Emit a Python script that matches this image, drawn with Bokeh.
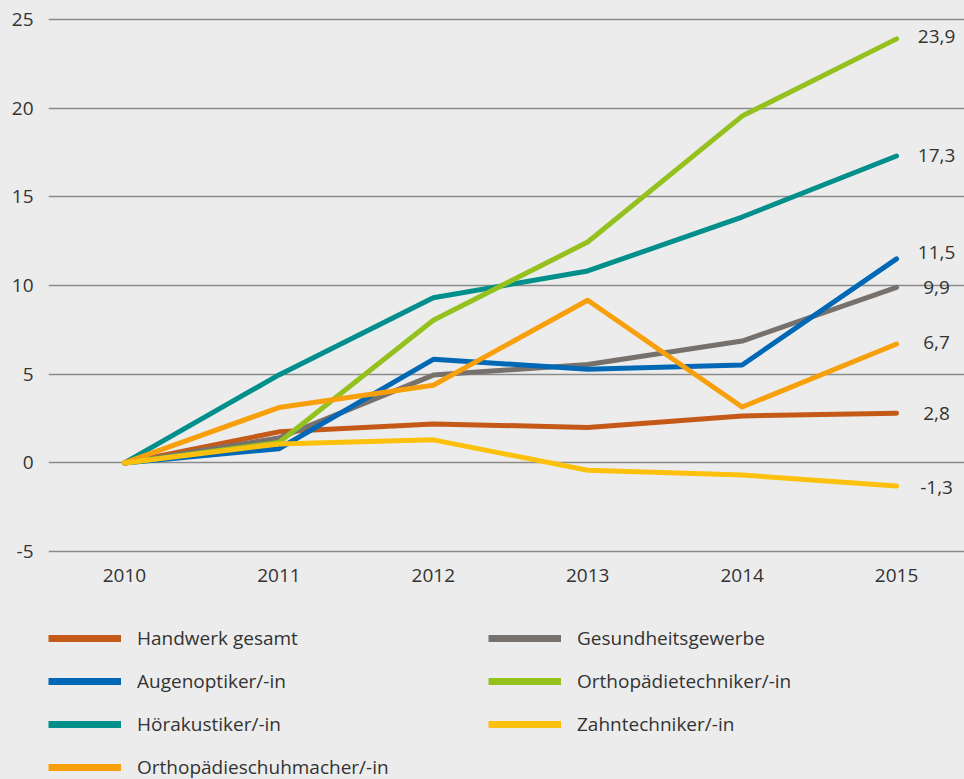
from bokeh.plotting import figure
from bokeh.layouts import column
from bokeh.models import (FixedTicker, Legend, LegendItem, ColumnDataSource,
                          GlobalInlineStyleSheet, Range1d, CustomJSTickFormatter)
from bokeh.core.properties import value
from bokeh.embed import file_html
from bokeh.resources import INLINE

# ---------------- data ----------------
years = [2010, 2011, 2012, 2013, 2014, 2015]
handwerk_gesamt = [0, 1.75, 2.2, 2.0, 2.65, 2.8]
gesundheitsgewerbe = [0, 1.4, 4.95, 5.55, 6.87, 9.9]
augenoptiker = [0, 0.8, 5.84, 5.28, 5.52, 11.5]
orthopaedietechniker = [0, 1.15, 8.04, 12.45, 19.55, 23.9]
hoerakustiker = [0, 4.96, 9.31, 10.82, 13.86, 17.3]
zahntechniker = [0, 1.07, 1.3, -0.41, -0.68, -1.3]
orthopaedieschuhmacher = [0, 3.12, 4.38, 9.17, 3.15, 6.7]

legend_names = ["Handwerk gesamt", "Gesundheitsgewerbe", "Augenoptiker/-in",
                "Orthopädietechniker/-in", "Hörakustiker/-in", "Zahntechniker/-in",
                "Orthopädieschuhmacher/-in"]
y_ticks = [-5, 0, 5, 10, 15, 20, 25]

# ---------------- style ----------------
BG = "#ececec"
TXT = "#333333"
FONT = "Open Sans"
FS = "19px"
colors = {
    "Handwerk gesamt": "#c55a18",
    "Gesundheitsgewerbe": "#77716e",
    "Augenoptiker/-in": "#0068b4",
    "Orthopädietechniker/-in": "#95c11f",
    "Hörakustiker/-in": "#008f8a",
    "Zahntechniker/-in": "#fdc00c",
    "Orthopädieschuhmacher/-in": "#f7a00c",
}
series = {
    "Handwerk gesamt": handwerk_gesamt,
    "Gesundheitsgewerbe": gesundheitsgewerbe,
    "Augenoptiker/-in": augenoptiker,
    "Orthopädietechniker/-in": orthopaedietechniker,
    "Hörakustiker/-in": hoerakustiker,
    "Zahntechniker/-in": zahntechniker,
    "Orthopädieschuhmacher/-in": orthopaedieschuhmacher,
}
draw_order = ["Handwerk gesamt", "Gesundheitsgewerbe", "Augenoptiker/-in",
              "Hörakustiker/-in", "Orthopädietechniker/-in",
              "Orthopädieschuhmacher/-in", "Zahntechniker/-in"]

# ---------------- main chart ----------------
p = figure(frame_width=916, frame_height=550,
           x_range=Range1d(2009.508, 2015.44), y_range=Range1d(-5.5, 25.5),
           output_backend="svg", toolbar_location=None, title=None,
           min_border_left=48, min_border_right=0, min_border_top=10,
           min_border_bottom=40,
           background_fill_color=BG, border_fill_color=BG,
           outline_line_color=None)
p.stylesheets = [GlobalInlineStyleSheet(
    css="html, body {margin:0; padding:0; background:#ececec; overflow:hidden;}")]

p.xgrid.visible = False
p.ygrid.ticker = FixedTicker(ticks=y_ticks)
p.ygrid.grid_line_color = "#8a8a8a"
p.ygrid.grid_line_width = 1.5

p.xaxis.ticker = FixedTicker(ticks=years)
p.yaxis.ticker = FixedTicker(ticks=y_ticks)
p.yaxis.formatter = CustomJSTickFormatter(code="return tick.toString()")
p.xaxis.formatter = CustomJSTickFormatter(code="return tick.toString()")
for ax in (p.xaxis[0], p.yaxis[0]):
    ax.axis_line_color = None
    ax.major_tick_line_color = None
    ax.minor_tick_line_color = None
    ax.major_tick_in = 0
    ax.major_tick_out = 0
    ax.major_label_text_font = FONT
    ax.major_label_text_font_size = FS
    ax.major_label_text_color = TXT
p.xaxis.major_label_standoff = 8
p.yaxis.major_label_standoff = 15

for name in draw_order:
    src = ColumnDataSource(dict(x=years, y=series[name]))
    p.line("x", "y", source=src, line_color=colors[name], line_width=5,
           line_cap="round", line_join="round")

# end labels
end_vals = [series[n][-1] for n in legend_names]
end_text = [f"{v:.1f}".replace(".", ",") for v in end_vals]
nudge = {"Augenoptiker/-in": -6, "Orthopädieschuhmacher/-in": -2,
         "Orthopädietechniker/-in": -2, "Zahntechniker/-in": 2}
lab_src = ColumnDataSource(dict(
    x=[years[-1]] * len(legend_names), y=end_vals, t=end_text,
    dy=[nudge.get(n, 0) for n in legend_names]))
p.text("x", "y", text="t", source=lab_src, x_offset=40, y_offset="dy",
       text_align="center", text_baseline="middle",
       text_font=value(FONT), text_font_size=FS, text_color=TXT)

# ---------------- legend panel ----------------
# the series are drawn here only as legend proxies (thicker swatches),
# their range lies outside this panel's view so nothing is visible
lg = figure(width=964, height=179, x_range=Range1d(0, 1), y_range=Range1d(100, 101),
            output_backend="svg", toolbar_location=None, title=None,
            x_axis_location=None, y_axis_location=None,
            min_border_left=0, min_border_right=0, min_border_top=0,
            min_border_bottom=0,
            background_fill_color=BG, border_fill_color=BG,
            outline_line_color=None)
lg.xgrid.visible = False
lg.ygrid.visible = False

items = []
for name in legend_names:
    psrc = ColumnDataSource(dict(x=years, y=series[name]))
    proxy = lg.line("x", "y", source=psrc, line_color=colors[name], line_width=7)
    items.append(LegendItem(label=name, renderers=[proxy]))
legend = Legend(items=items, orientation="horizontal", ncols=2,
                location=(0, -1), margin=0, padding=0,
                glyph_width=73, glyph_height=26, label_height=26,
                label_width=334, label_standoff=16, spacing=17,
                label_text_font=FONT, label_text_font_size=FS,
                label_text_color=TXT, border_line_color=None,
                background_fill_alpha=0)
lg.add_layout(legend, "center")

layout = column(p, lg, spacing=0)
open("out.html", "w").write(file_html(layout, INLINE))
